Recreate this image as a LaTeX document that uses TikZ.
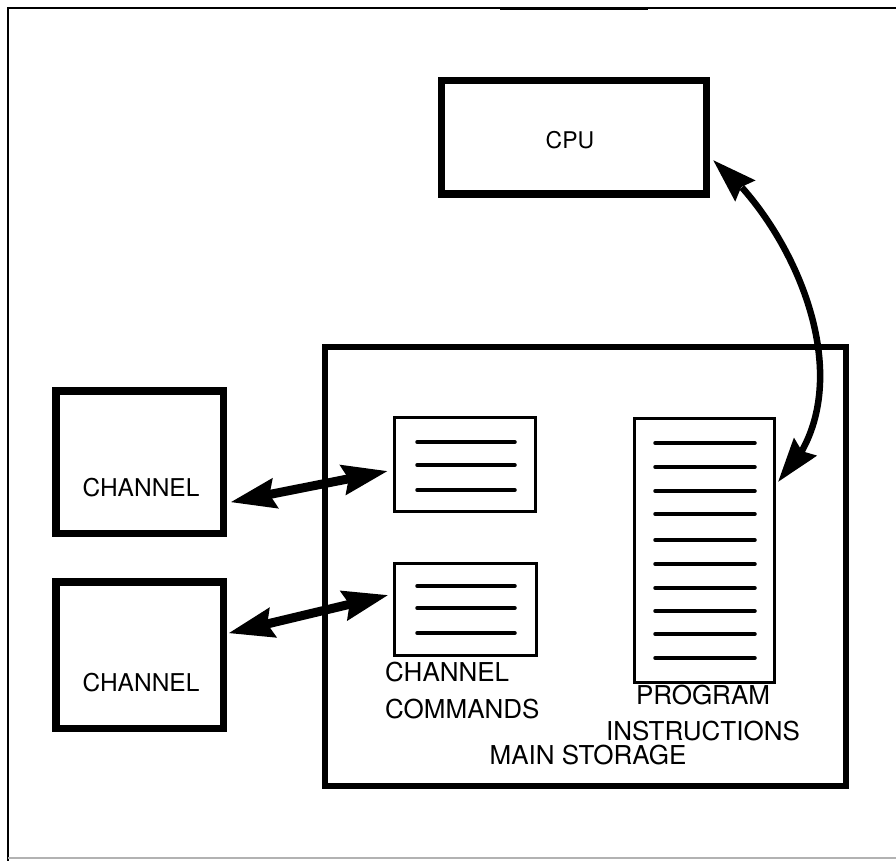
\documentclass[tikz,border=0pt]{standalone}
\usepackage{fontspec}
\setmainfont{TeX Gyre Heros}
\usetikzlibrary{arrows.meta,bending}

\tikzset{
  heavybox/.style={draw=black, line width=7pt, fill=white, inner sep=0pt},
  listbox/.style={draw=black, line width=3pt, fill=white, inner sep=0pt},
  label/.style={inner sep=0pt, font=\fontsize{26}{36.5}\selectfont},
  boxtext/.style={inner sep=0pt, font=\fontsize{24.5}{28}\selectfont},
  cputext/.style={inner sep=0pt, font=\fontsize{23}{28}\selectfont},
  rule/.style={line width=3.5pt, line cap=round},
  link/.style={line width=9pt, {Stealth[length=45pt, width=29pt, inset=5pt]}-{Stealth[length=45pt, width=29pt, inset=5pt]}},
  bus/.style={line width=6.5pt, {Stealth[length=44pt, width=28pt, inset=5pt]}-{Stealth[length=44pt, width=28pt, inset=5pt]}}
}

\begin{document}
\begin{tikzpicture}[x=1pt, y=-1pt]
  \useasboundingbox (0,0) rectangle (896,861);

  % page frame
  \draw[line width=2.5pt] (8,861) -- (8,8) -- (896,8);
  \draw[line width=3.5pt] (500,8.5) -- (648,8.5);
  \draw[line width=1.5pt, black!30] (8,858) -- (896,858);

  % processor
  \node[heavybox, minimum width=265pt, minimum height=113pt] (cpu) at (573.5,137.5) {};
  \node[cputext] (cpulbl) at (570,140) {CPU};

  % main storage
  \node[heavybox, line width=6.5pt, minimum width=521pt, minimum height=439pt] (mem) at (585.5,566.5) {};

  % channels
  \node[heavybox, line width=7.5pt, minimum width=167.5pt, minimum height=142.5pt] (ch1) at (139.75,462.25) {};
  \node[heavybox, line width=7.5pt, minimum width=167.5pt, minimum height=146.5pt] (ch2) at (139.75,655.25) {};
  \node[boxtext] (ch1lbl) at (141,488) {CHANNEL};
  \node[boxtext] (ch2lbl) at (141,683) {CHANNEL};

  % channel command lists
  \node[listbox, minimum width=141pt, minimum height=94pt] (cc1) at (465,464.5) {};
  \node[listbox, minimum width=142pt, minimum height=92pt] (cc2) at (465,609.5) {};
  \foreach \y in {442,465,490} \draw[rule] (417,\y) -- (515,\y);
  \foreach \y in {586,608,633} \draw[rule] (417,\y) -- (515,\y);

  % program instruction list
  \node[listbox, minimum width=140pt, minimum height=264pt] (prog) at (704,550) {};
  \foreach \y in {443,467,491,514,540,564,588,611,634,658} \draw[rule] (655,\y) -- (755,\y);

  % captions
  \node[label, align=left, anchor=north west] (cclbl) at (385,662) {CHANNEL\\COMMANDS};
  \node[label, align=center] (proglbl) at (703,713) {PROGRAM\\INSTRUCTIONS};
  \node[label] (memlbl) at (588,755) {MAIN STORAGE};

  % channel <-> command lists
  \draw[link] ([xshift=3pt, yshift=-40pt]ch1.east) -- ([xshift=-5pt, yshift=-6.5pt]cc1.west);
  \draw[link] ([xshift=1pt, yshift=22pt]ch2.east) -- ([xshift=-4pt, yshift=14.5pt]cc2.west);

  % processor <-> program
  \draw[bus] ([xshift=3.5pt, yshift=-22.5pt]cpu.east)
     .. controls (790,220) and (872,390) .. ([xshift=2.5pt, yshift=68pt]prog.east);
\end{tikzpicture}
\end{document}
